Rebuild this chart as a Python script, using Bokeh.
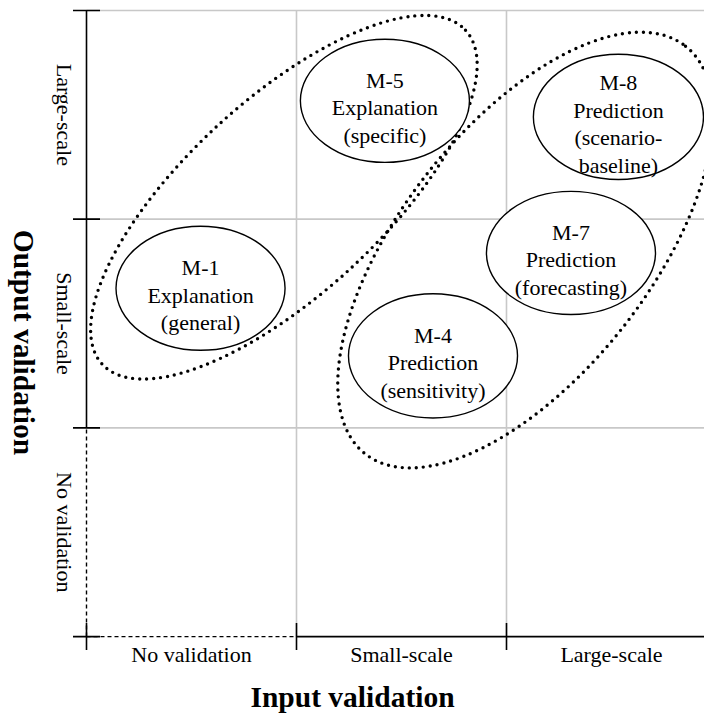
import math
from bokeh.plotting import figure
from bokeh.models import Range1d, FixedTicker, ColumnDataSource
from bokeh.core.properties import value
from bokeh.embed import file_html
from bokeh.resources import INLINE

# ---------------- data ----------------
input_levels = ["No validation", "Small-scale", "Large-scale"]    # x categories
output_levels = ["No validation", "Small-scale", "Large-scale"]   # y categories
boundaries = [0, 1, 2, 3]                                          # category edges

model_lines = [
    ["M-1", "Explanation", "(general)"],
    ["M-4", "Prediction", "(sensitivity)"],
    ["M-5", "Explanation", "(specific)"],
    ["M-7", "Prediction", "(forecasting)"],
    ["M-8", "Prediction", "(scenario-", "baseline)"],
]
model_x = [0.543, 1.650, 1.421, 2.307, 2.533]
model_y = [1.669, 1.345, 2.567, 1.838, 2.490]
model_w = [0.805, 0.805, 0.805, 0.805, 0.810]
model_h = [0.595, 0.595, 0.590, 0.590, 0.600]

group_names = ["Explanation", "Prediction"]
group_x = [0.940, 2.090]
group_y = [2.105, 1.852]
group_w = [2.350, 2.469]
group_h = [0.935, 1.193]
group_angle_deg = [42.6, 51.85]

# ---------------- layout ----------------
PX = 210.0                      # pixels per category
W, H = 704, 715
BOTTOM = 61
x_start = -86 / PX
x_end = x_start + W / PX
y_end = 640 / PX
y_start = y_end - (H - BOTTOM) / PX

p = figure(width=W, height=H, output_backend="svg", toolbar_location=None,
           x_range=Range1d(x_start, x_end), y_range=Range1d(y_start, y_end),
           y_axis_location=None,
           min_border_left=0, min_border_right=0, min_border_top=0,
           min_border_bottom=BOTTOM)
p.outline_line_color = None
p.background_fill_color = "white"
p.border_fill_color = "white"
p.grid.visible = False

FONT = "Liberation Serif"
centers = [(boundaries[i] + boundaries[i + 1]) / 2 for i in range(len(boundaries) - 1)]

# grid lines
inner = boundaries[1:]
p.segment(x0=[boundaries[0]] * len(inner), x1=[x_end] * len(inner), y0=inner, y1=inner,
          line_color="#c8c8c8", line_width=1.6)
p.segment(x0=boundaries[1:-1], x1=boundaries[1:-1], y0=[boundaries[0]] * 2, y1=[boundaries[-1]] * 2,
          line_color="#c8c8c8", line_width=1.6)

# dotted group ellipses
p.ellipse(x=group_x, y=group_y, width=group_w, height=group_h,
          angle=[math.radians(a) for a in group_angle_deg],
          fill_color=None, line_color="black", line_width=3.4,
          line_dash="0 7", line_cap="round")

# model ellipses
p.ellipse(x=model_x, y=model_y, width=model_w, height=model_h,
          fill_color="white", line_color="black", line_width=1.4)

# texts inside ellipses
tx, ty, tt, to = [], [], [], []
LINE = 27.5
for mx, my, lines in zip(model_x, model_y, model_lines):
    n = len(lines)
    for i, s in enumerate(lines):
        tx.append(mx)
        ty.append(my)
        tt.append(s)
        to.append(7 + (i - (n - 1) / 2) * LINE)
src = ColumnDataSource(dict(x=tx, y=ty, text=tt, yoff=to))
p.text(x="x", y="y", text="text", y_offset="yoff", source=src,
       text_font=value(FONT), text_font_size="22px", text_align="center",
       text_baseline="alphabetic", text_color="black")

# axis lines: solid for validated ranges, dashed for "No validation"
p.segment(x0=[0], y0=[boundaries[1]], x1=[0], y1=[boundaries[-1]], line_color="black", line_width=1.6)
p.segment(x0=[0], y0=[boundaries[0]], x1=[0], y1=[boundaries[1]], line_color="black", line_width=1.4,
          line_dash="4 3")
p.segment(x0=[boundaries[0]], y0=[0], x1=[boundaries[1]], y1=[0], line_color="black", line_width=1.4,
          line_dash="4 3")
p.segment(x0=[boundaries[1]], y0=[0], x1=[x_end], y1=[0], line_color="black", line_width=1.6)

# crossing tick marks
p.scatter(x=[0] * len(boundaries), y=boundaries, marker="dash", size=27,
          line_color="black", line_width=1.6)
p.scatter(x=boundaries[:-1], y=[0] * (len(boundaries) - 1), marker="dash", size=27, angle=math.pi / 2,
          line_color="black", line_width=1.6)

# left side: category labels and title (read top-to-bottom)
p.text(x=[-22 / PX] * len(centers), y=centers, text=output_levels, angle=-math.pi / 2,
       text_font=value(FONT), text_font_size="22px", text_align="center",
       text_baseline="alphabetic", text_color="black")
p.text(x=[-63 / PX], y=[(640 - 344) / PX], text=["Output validation"], angle=-math.pi / 2,
       text_font=value(FONT), text_font_size="29.5px", text_font_style="bold",
       text_align="center", text_baseline="alphabetic", text_color="black")

# bottom axis: category labels and title
ax = p.xaxis[0]
ax.ticker = FixedTicker(ticks=centers, minor_ticks=[])
ax.major_label_overrides = {c: l for c, l in zip(centers, input_levels)}
ax.axis_line_color = None
ax.major_tick_line_color = None
ax.minor_tick_line_color = None
ax.major_tick_in = 0
ax.major_tick_out = 0
ax.minor_tick_in = 0
ax.minor_tick_out = 0
ax.major_label_text_font = FONT
ax.major_label_text_font_size = "22px"
ax.major_label_text_color = "black"
ax.major_label_standoff = -9
ax.axis_label = "Input validation"
ax.axis_label_text_font = FONT
ax.axis_label_text_font_style = "bold"
ax.axis_label_text_font_size = "29.5px"
ax.axis_label_text_color = "black"
ax.axis_label_standoff = 11

open("out.html", "w").write(file_html(p, INLINE))
